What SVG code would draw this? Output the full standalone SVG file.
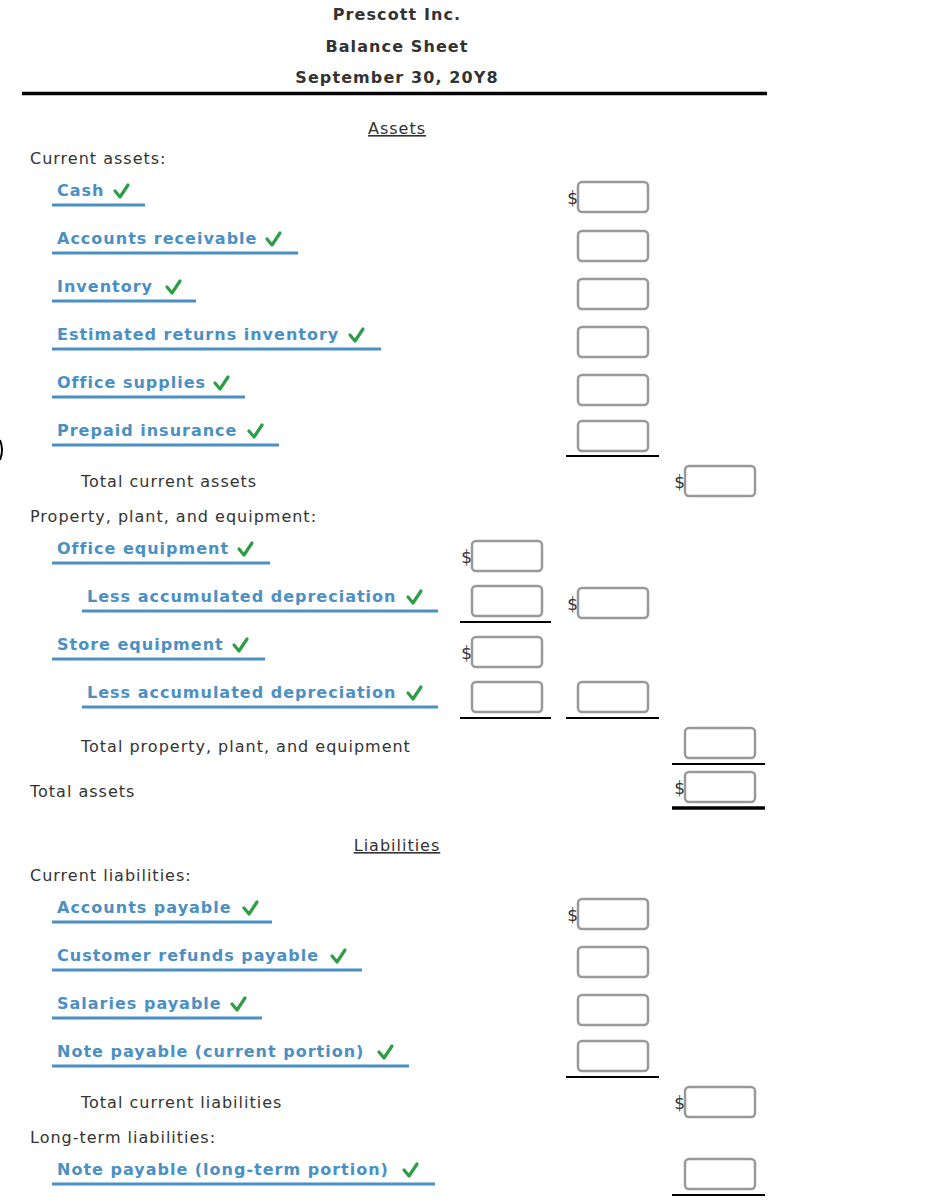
<svg xmlns="http://www.w3.org/2000/svg" width="936" height="1202" viewBox="0 0 936 1202">
<style>
text{font-family:"DejaVu Sans",Verdana,sans-serif;fill:#333}
.h{font-weight:bold;font-size:16px;text-anchor:middle;letter-spacing:1.1px}
.p{font-size:16px;letter-spacing:1px}
.l{font-weight:bold;font-size:16px;fill:#4a90c4;letter-spacing:1px}
.u{stroke:#4a90c4;stroke-width:3}
.ck{fill:none;stroke:#2e9e44;stroke-width:3.2;stroke-linecap:round;stroke-linejoin:round}
.bx{fill:#fff;stroke:#999;stroke-width:2.5}
.k{stroke:#000;stroke-width:2}
.kk{stroke:#000;stroke-width:3.5}
.d{font-size:17px;text-anchor:end}
</style>
<defs>
<path id="c" class="ck" d="M0,-7 L5,-1 L13,-13"/>
<rect id="b" class="bx" x="0" y="0" width="70" height="30" rx="4"/>
</defs>
<rect width="936" height="1202" fill="#fff"/>
<g id="header">
<text class="h" x="397" y="20">Prescott Inc.</text>
<text class="h" x="397" y="52">Balance Sheet</text>
<text class="h" x="397" y="83">September 30, 20Y8</text>
<line class="kk" x1="22" y1="93.5" x2="767" y2="93.5"/>
<text class="p" x="397" y="134" text-anchor="middle" text-decoration="underline">Assets</text>
<text class="p" x="397" y="851" text-anchor="middle" text-decoration="underline">Liabilities</text>
<path d="M0,440 Q4,450 0,460" stroke="#000" stroke-width="2" fill="none"/>
</g>
<g id="plain">
<text class="p" x="30" y="164">Current assets:</text>
<text class="p" x="81" y="487">Total current assets</text>
<text class="p" x="30" y="522">Property, plant, and equipment:</text>
<text class="p" x="81" y="752">Total property, plant, and equipment</text>
<text class="p" x="30" y="797">Total assets</text>
<text class="p" x="30" y="881">Current liabilities:</text>
<text class="p" x="81" y="1108">Total current liabilities</text>
<text class="p" x="30" y="1143">Long-term liabilities:</text>
</g>
<g id="labels">
<text class="l" x="57" y="196">Cash</text><use href="#c" x="115" y="198"/><line class="u" x1="52" y1="205" x2="145" y2="205"/>
<text class="l" x="57" y="244">Accounts receivable</text><use href="#c" x="267" y="246"/><line class="u" x1="52" y1="253" x2="298" y2="253"/>
<text class="l" x="57" y="292">Inventory</text><use href="#c" x="167" y="294"/><line class="u" x1="52" y1="301" x2="196" y2="301"/>
<text class="l" x="57" y="340">Estimated returns inventory</text><use href="#c" x="350" y="342"/><line class="u" x1="52" y1="349" x2="381" y2="349"/>
<text class="l" x="57" y="388">Office supplies</text><use href="#c" x="215" y="390"/><line class="u" x1="52" y1="397" x2="245" y2="397"/>
<text class="l" x="57" y="436">Prepaid insurance</text><use href="#c" x="249" y="438"/><line class="u" x1="52" y1="445" x2="279" y2="445"/>
<text class="l" x="57" y="554">Office equipment</text><use href="#c" x="239" y="556"/><line class="u" x1="52" y1="563" x2="270" y2="563"/>
<text class="l" x="87" y="602">Less accumulated depreciation</text><use href="#c" x="408" y="604"/><line class="u" x1="82" y1="611" x2="438" y2="611"/>
<text class="l" x="57" y="650">Store equipment</text><use href="#c" x="234" y="652"/><line class="u" x1="52" y1="659" x2="265" y2="659"/>
<text class="l" x="87" y="698">Less accumulated depreciation</text><use href="#c" x="408" y="700"/><line class="u" x1="82" y1="707" x2="438" y2="707"/>
<text class="l" x="57" y="913">Accounts payable</text><use href="#c" x="244" y="915"/><line class="u" x1="52" y1="922" x2="272" y2="922"/>
<text class="l" x="57" y="961">Customer refunds payable</text><use href="#c" x="332" y="963"/><line class="u" x1="52" y1="970" x2="362" y2="970"/>
<text class="l" x="57" y="1009">Salaries payable</text><use href="#c" x="232" y="1011"/><line class="u" x1="52" y1="1018" x2="262" y2="1018"/>
<text class="l" x="57" y="1057">Note payable (current portion)</text><use href="#c" x="379" y="1059"/><line class="u" x1="52" y1="1066" x2="409" y2="1066"/>
<text class="l" x="57" y="1175">Note payable (long-term portion)</text><use href="#c" x="404" y="1177"/><line class="u" x1="52" y1="1184" x2="435" y2="1184"/>
</g>
<g id="inputs">
<text class="d" x="578" y="204">$</text><use href="#b" x="578" y="182"/>
<use href="#b" x="578" y="231"/><use href="#b" x="578" y="279"/><use href="#b" x="578" y="327"/><use href="#b" x="578" y="375"/><use href="#b" x="578" y="421"/>
<line class="k" x1="566" y1="456" x2="659" y2="456"/>
<text class="d" x="685" y="488">$</text><use href="#b" x="685" y="466"/>
<text class="d" x="472" y="563">$</text><use href="#b" x="472" y="541"/>
<use href="#b" x="472" y="586"/><line class="k" x1="460" y1="622" x2="551" y2="622"/>
<text class="d" x="578" y="610">$</text><use href="#b" x="578" y="588"/>
<text class="d" x="472" y="659">$</text><use href="#b" x="472" y="637"/>
<use href="#b" x="472" y="682"/><line class="k" x1="460" y1="718" x2="551" y2="718"/>
<use href="#b" x="578" y="682"/><line class="k" x1="566" y1="718" x2="659" y2="718"/>
<use href="#b" x="685" y="728"/><line class="k" x1="672" y1="764" x2="765" y2="764"/>
<text class="d" x="685" y="794">$</text><use href="#b" x="685" y="772"/>
<line class="kk" x1="672" y1="808" x2="765" y2="808"/>
<text class="d" x="578" y="921">$</text><use href="#b" x="578" y="899"/>
<use href="#b" x="578" y="947"/><use href="#b" x="578" y="995"/><use href="#b" x="578" y="1041"/>
<line class="k" x1="566" y1="1077" x2="659" y2="1077"/>
<text class="d" x="685" y="1109">$</text><use href="#b" x="685" y="1087"/>
<use href="#b" x="685" y="1159"/><line class="k" x1="672" y1="1195" x2="765" y2="1195"/>
</g>
</svg>
